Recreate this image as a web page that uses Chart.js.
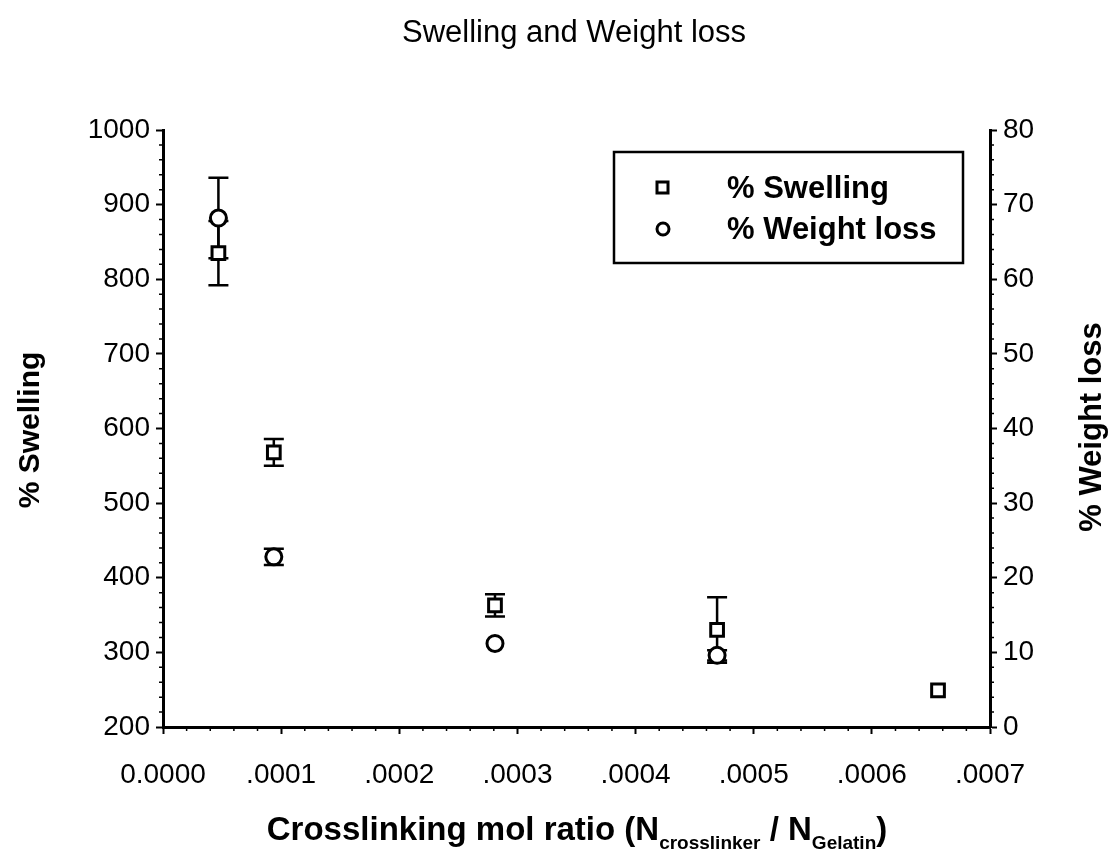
<!DOCTYPE html>
<html>
<head>
<meta charset="utf-8">
<title>Swelling and Weight loss</title>
<script src="https://cdn.jsdelivr.net/npm/chart.js@4.4.1/dist/chart.umd.min.js"></script>
<style>
  html, body { margin: 0; padding: 0; background: #fff; }
  #wrap { width: 1109px; height: 852px; }
</style>
</head>
<body>
<div id="wrap"><canvas id="swellChart" width="1109" height="852"></canvas></div>
<script>
// crosslinker / gelatin mol ratio
const ratios = [0.0000469, 0.0000938, 0.000281, 0.000469, 0.000656];
const swelling = [835, 568, 363, 330, 249];
const swellingErr = [43, 18, 15, 44, 0];
const weightLoss = [68.2, 22.8, 11.2, 9.6];
const weightLossErr = [5.4, 1.1, 0, 0.7];
const xTickLabels = ['0.0000', '.0001', '.0002', '.0003', '.0004', '.0005', '.0006', '.0007'];

const FONT = '"Liberation Sans", Arial, Helvetica, sans-serif';
const INK = '#000';

// vertical error bars with caps, drawn under the markers
const errorBars = {
  id: 'errorBars',
  beforeDatasetsDraw(chart) {
    const ctx = chart.ctx;
    const x = chart.scales.x;
    ctx.save();
    ctx.strokeStyle = INK;
    ctx.lineWidth = 2.5;
    const sets = [
      { vals: swelling, errs: swellingErr, axis: chart.scales.y },
      { vals: weightLoss, errs: weightLossErr, axis: chart.scales.y2 }
    ];
    sets.forEach(s => {
      s.vals.forEach((v, i) => {
        const e = s.errs[i];
        if (!e) return;
        const px = x.getPixelForValue(ratios[i]);
        const top = s.axis.getPixelForValue(v + e);
        const bot = s.axis.getPixelForValue(v - e);
        ctx.beginPath();
        ctx.moveTo(px, top); ctx.lineTo(px, bot);
        ctx.moveTo(px - 10, top); ctx.lineTo(px + 10, top);
        ctx.moveTo(px - 10, bot); ctx.lineTo(px + 10, bot);
        ctx.stroke();
      });
    });
    ctx.restore();
  }
};

// minor ticks, titles and the boxed legend
const decorations = {
  id: 'decorations',
  afterDraw(chart) {
    const ctx = chart.ctx;
    const { x, y, y2 } = chart.scales;
    const area = chart.chartArea;
    ctx.save();
    ctx.strokeStyle = INK;
    ctx.lineWidth = 1.5;
    ctx.beginPath();
    for (let v = 220; v < 1000; v += 20) {
      if (v % 100 === 0) continue;
      const py = y.getPixelForValue(v);
      ctx.moveTo(area.left - 4, py); ctx.lineTo(area.left, py);
    }
    for (let v = 2; v < 80; v += 2) {
      if (v % 10 === 0) continue;
      const py = y2.getPixelForValue(v);
      ctx.moveTo(area.right, py); ctx.lineTo(area.right + 4, py);
    }
    for (let k = 1; k < 35; k++) {
      if (k % 5 === 0) continue;
      const px = x.getPixelForValue(k * 0.00002);
      ctx.moveTo(px, area.bottom); ctx.lineTo(px, area.bottom + 4);
    }
    ctx.stroke();

    ctx.fillStyle = INK;
    // chart title
    ctx.font = '31px ' + FONT;
    ctx.textAlign = 'center';
    ctx.textBaseline = 'middle';
    ctx.fillText('Swelling and Weight loss', 574, 33);

    // left axis title
    ctx.font = 'bold 30px ' + FONT;
    ctx.save();
    ctx.translate(31, 430);
    ctx.rotate(-Math.PI / 2);
    ctx.fillText('% Swelling', 0, 0);
    ctx.restore();

    // right axis title, reading upwards like the left one
    ctx.font = 'bold 31px ' + FONT;
    ctx.save();
    ctx.translate(1092, 427);
    ctx.rotate(-Math.PI / 2);
    ctx.fillText('% Weight loss', 0, 0);
    ctx.restore();

    // x axis title with subscripts
    const big = 'bold 33px ' + FONT;
    const small = 'bold 19px ' + FONT;
    const parts = [
      ['Crosslinking mol ratio (N', big, 0],
      ['crosslinker', small, 9],
      [' / N', big, 0],
      ['Gelatin', small, 9],
      [')', big, 0]
    ];
    let total = 0;
    parts.forEach(p => { ctx.font = p[1]; total += ctx.measureText(p[0]).width; });
    let cx = 577 - total / 2;
    ctx.textAlign = 'left';
    ctx.textBaseline = 'alphabetic';
    parts.forEach(p => {
      ctx.font = p[1];
      ctx.fillText(p[0], cx, 840 + p[2]);
      cx += ctx.measureText(p[0]).width;
    });

    // legend box
    ctx.lineWidth = 2.5;
    ctx.fillStyle = '#fff';
    ctx.fillRect(614, 152, 349, 111);
    ctx.strokeRect(614, 152, 349, 111);
    ctx.lineWidth = 3;
    ctx.strokeRect(657, 182, 11, 11);
    ctx.beginPath();
    ctx.arc(663, 229, 6, 0, Math.PI * 2);
    ctx.stroke();
    ctx.fillStyle = INK;
    ctx.font = 'bold 31px ' + FONT;
    ctx.textBaseline = 'middle';
    chart.data.datasets.forEach((ds, i) => {
      ctx.fillText(ds.label, 727, 189 + i * 41);
    });
    ctx.restore();
  }
};

const axisGrid = {
  drawOnChartArea: false,
  drawTicks: true,
  tickLength: 7,
  tickWidth: 2,
  tickColor: INK
};

const tickFont = { family: FONT, size: 28 };

new Chart(document.getElementById('swellChart'), {
  type: 'scatter',
  data: {
    datasets: [
      {
        label: '% Swelling',
        data: ratios.map((r, i) => ({ x: r, y: swelling[i] })),
        yAxisID: 'y',
        pointStyle: 'rect',
        pointRadius: 9,
        pointBorderWidth: 3,
        borderColor: INK,
        backgroundColor: '#fff'
      },
      {
        label: '% Weight loss',
        data: weightLoss.map((w, i) => ({ x: ratios[i], y: w })),
        yAxisID: 'y2',
        pointStyle: 'circle',
        pointRadius: 8,
        pointBorderWidth: 3,
        borderColor: INK,
        backgroundColor: '#fff'
      }
    ]
  },
  options: {
    responsive: false,
    animation: false,
    layout: { padding: { top: 130, right: 0, bottom: 0, left: 0 } },
    plugins: {
      legend: { display: false },
      title: { display: false },
      tooltip: { enabled: false }
    },
    scales: {
      x: {
        type: 'linear',
        min: 0,
        max: 0.0007,
        afterFit(scale) { scale.height = 125; },
        afterBuildTicks(scale) {
          scale.ticks = xTickLabels.map((t, i) => ({ value: i * 0.0001 }));
        },
        ticks: {
          color: INK,
          font: tickFont,
          padding: 24,
          maxRotation: 0,
          callback: (v, i) => xTickLabels[i]
        },
        grid: axisGrid,
        border: { color: INK, width: 3 }
      },
      y: {
        position: 'left',
        min: 200,
        max: 1000,
        afterFit(scale) { scale.width = 163; },
        ticks: {
          stepSize: 100,
          color: INK,
          font: tickFont,
          padding: 6,
          callback: v => String(v)
        },
        grid: axisGrid,
        border: { color: INK, width: 3 }
      },
      y2: {
        position: 'right',
        min: 0,
        max: 80,
        afterFit(scale) { scale.width = 119; },
        ticks: {
          stepSize: 10,
          color: INK,
          font: tickFont,
          padding: 6,
          callback: v => String(v)
        },
        grid: axisGrid,
        border: { color: INK, width: 3 }
      }
    }
  },
  plugins: [errorBars, decorations]
});
</script>
</body>
</html>
